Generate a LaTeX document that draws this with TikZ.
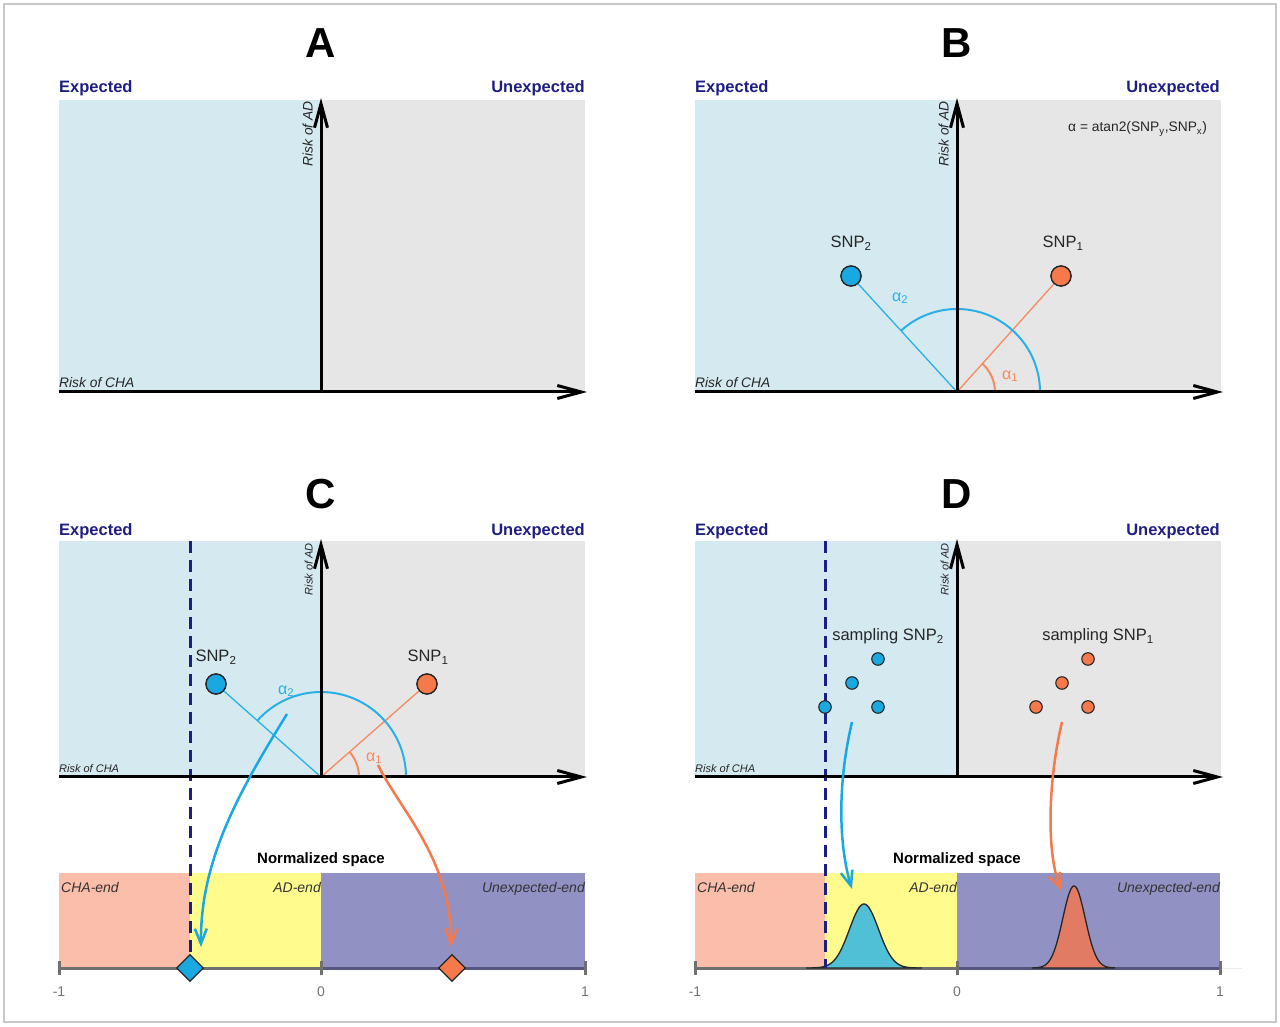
\documentclass[tikz,border=0pt]{standalone}
\usepackage{fontspec}
\setmainfont{Liberation Sans}
\usetikzlibrary{arrows.meta,shapes.geometric}
\definecolor{bgexp}{HTML}{D5E9F0}
\definecolor{bgunexp}{HTML}{E6E6E6}
\definecolor{navy}{HTML}{1E1E82}
\definecolor{snpblue}{HTML}{1AA8E0}
\definecolor{lineblue}{HTML}{2AB0E4}
\definecolor{snporange}{HTML}{F5794A}
\definecolor{lineorange}{HTML}{F58A60}
\definecolor{salmon}{HTML}{FBBEAA}
\definecolor{ylw}{HTML}{FFFB8C}
\definecolor{purp}{HTML}{9191C4}
\definecolor{densblue}{HTML}{4FC0D5}
\definecolor{densorange}{HTML}{E17B63}
\definecolor{framec}{HTML}{C8C8C8}
\definecolor{tickgray}{HTML}{707070}
\definecolor{tickdark}{HTML}{55557F}
\begin{document}
\begin{tikzpicture}[x=1pt,y=1pt,
  panel/.style={font=\fontsize{42}{46}\selectfont\bfseries, anchor=base, inner sep=0},
  explab/.style={font=\fontsize{16.5}{19}\selectfont\bfseries, text=navy, inner sep=0},
  riskbig/.style={font=\fontsize{13.8}{16}\selectfont\itshape, text=black!85, inner sep=0},
  risksmall/.style={font=\fontsize{11}{13}\selectfont\itshape, text=black!85, inner sep=0},
  axisarrow/.style={line width=3pt, -{Straight Barb[length=24pt,width=13pt]}},
  snpdot/.style={circle, draw=black!85, line width=1.3pt, minimum size=20pt, inner sep=0},
  sampdot/.style={circle, draw=black!85, line width=1.1pt, minimum size=12.5pt, inner sep=0},
  snplab/.style={font=\fontsize{16.5}{19}\selectfont, text=black!85, anchor=base, inner sep=0},
  alphalab/.style={font=\fontsize{16}{19}\selectfont, inner sep=0},
  blueline/.style={draw=lineblue, line width=1.3pt},
  orangeline/.style={draw=lineorange, line width=1.3pt},
  bluearc/.style={draw=lineblue, line width=2pt},
  orangearc/.style={draw=lineorange, line width=2pt},
  dashline/.style={draw=navy, line width=3pt, dash pattern=on 12pt off 7pt},
  normlab/.style={font=\fontsize{15}{18}\selectfont\bfseries, anchor=base, inner sep=0},
  endlab/.style={font=\fontsize{14}{17}\selectfont\itshape, text=black!80, inner sep=0},
  ticklab/.style={font=\fontsize{14}{16}\selectfont, text=black!55, anchor=base, inner sep=0},
  tickline/.style={draw=tickgray, line width=3pt},
  curvblue/.style={draw=snpblue, line width=2.5pt, -{Straight Barb[length=15pt,width=12pt]}},
  curvorange/.style={draw=snporange, line width=2.5pt, -{Straight Barb[length=15pt,width=12pt]}},
  dmd/.style={diamond, draw=black!85, line width=1.3pt, minimum size=27pt, inner sep=0}
]
\useasboundingbox (0,0) rectangle (1280,1026);
\draw[framec, line width=2pt] (4,4) rectangle (1276,1022);

% ================= Panel A =================
\fill[bgexp] (59,634) rectangle (321,926);
\fill[bgunexp] (321,634) rectangle (585,926);
\coordinate (OA) at (321,634);
\coordinate (XA0) at (59,634);
\coordinate (XA1) at (587,634);
\coordinate (YA1) at (321,928);
\draw[axisarrow] (XA0) -- (XA1);
\draw[axisarrow] (OA) -- (YA1);
\node[panel] (tA) at (321,968) {A};
\node[explab, anchor=base west] (eA) at (59,933) {Expected};
\node[explab, anchor=base east] (uA) at (585,933) {Unexpected};
\node[riskbig, rotate=90, anchor=south east] (rA) at (313,925) {Risk of AD};
\node[riskbig, anchor=base west] (cA) at (59,638) {Risk of CHA};

% ================= Panel B =================
\fill[bgexp] (695,634) rectangle (957,926);
\fill[bgunexp] (957,634) rectangle (1221,926);
\coordinate (OB) at (957,634);
\coordinate (XB0) at (695,634);
\coordinate (XB1) at (1223,634);
\coordinate (YB1) at (957,928);
\node[snpdot, fill=snporange] (B1) at (1061,750) {};
\node[snpdot, fill=snpblue] (B2) at (851,750) {};
\draw[orangeline] (OB) -- (B1);
\draw[blueline] (OB) -- (B2);
\draw[bluearc] (OB) ++(83pt,0) arc[start angle=0, end angle=132.4, radius=83pt];
\draw[orangearc] (OB) ++(38pt,0) arc[start angle=0, end angle=48.1, radius=38pt];
\draw[axisarrow] (XB0) -- (XB1);
\draw[axisarrow] (OB) -- (YB1);
\node[snpdot, fill=snporange] at (B1) {};
\node[snpdot, fill=snpblue] at (B2) {};
\node[panel] (tB) at (957,968) {B};
\node[explab, anchor=base west] (eB) at (695,933) {Expected};
\node[explab, anchor=base east] (uB) at (1220,933) {Unexpected};
\node[riskbig, rotate=90, anchor=south east] (rB) at (949,925) {Risk of AD};
\node[riskbig, anchor=base west] (cB) at (695,638) {Risk of CHA};
\node[snplab] (lB2) at (851,778) {SNP\textsubscript{2}};
\node[snplab] (lB1) at (1063,778) {SNP\textsubscript{1}};
\node[alphalab, text=lineblue] (aB2) at (900,728) {α\textsubscript{2}};
\node[alphalab, text=lineorange] (aB1) at (1010,650) {α\textsubscript{1}};
\node[font=\fontsize{13.8}{15}\selectfont, text=black!85, anchor=base west, inner sep=0] (fB) at (1068,894) {α = atan2(SNP\textsubscript{y},SNP\textsubscript{x})};

% ================= Panel C =================
\fill[bgexp] (59,249) rectangle (321,485);
\fill[bgunexp] (321,249) rectangle (585,485);
\fill[salmon] (59,58) rectangle (190,153);
\fill[ylw] (190,58) rectangle (321,153);
\fill[purp] (321,58) rectangle (585,153);
\coordinate (OC) at (321,249);
\coordinate (XC0) at (59,249);
\coordinate (XC1) at (587,249);
\coordinate (YC1) at (321,487);
\coordinate (TC0) at (59,58);
\coordinate (TCm) at (321,58);
\coordinate (TC1) at (585,58);
\draw[tickline] (TC0) -- (TCm);
\draw[tickline, draw=tickdark] (TCm) -- (TC1);
\foreach \xx in {59,321,585} \draw[tickline] (\xx,51) -- (\xx,65);
\coordinate (DC0) at (190,485);
\coordinate (DC1) at (190,58);
\draw[dashline] (DC0) -- (DC1);
\node[snpdot, fill=snporange] (C1) at (427,342) {};
\node[snpdot, fill=snpblue] (C2) at (216,342) {};
\draw[orangeline] (OC) -- (C1);
\draw[blueline] (OC) -- (C2);
\draw[bluearc] (OC) ++(85pt,0) arc[start angle=0, end angle=138.5, radius=85pt];
\draw[orangearc] (OC) ++(38pt,0) arc[start angle=0, end angle=41.3, radius=38pt];
\draw[axisarrow] (XC0) -- (XC1);
\draw[axisarrow] (OC) -- (YC1);
\node[snpdot, fill=snporange] at (C1) {};
\node[snpdot, fill=snpblue] at (C2) {};
\node[panel] (tC) at (321,517) {C};
\node[explab, anchor=base west] (eC) at (59,490) {Expected};
\node[explab, anchor=base east] (uC) at (585,490) {Unexpected};
\node[risksmall, rotate=90, anchor=south east] (rC) at (313,483) {Risk of AD};
\node[risksmall, anchor=base west] (cC) at (59,253) {Risk of CHA};
\node[snplab] (lC2) at (216,364) {SNP\textsubscript{2}};
\node[snplab] (lC1) at (428,364) {SNP\textsubscript{1}};
\node[alphalab, text=lineblue] (aC2) at (286,335) {α\textsubscript{2}};
\node[alphalab, text=lineorange] (aC1) at (374,268) {α\textsubscript{1}};
\node[normlab] (nC) at (321,162) {Normalized space};
\node[endlab, anchor=base west] (ec1) at (61,133) {CHA-end};
\node[endlab, anchor=base east] (ec2) at (321,133) {AD-end};
\node[endlab, anchor=base east] (ec3) at (585,133) {Unexpected-end};
\node[ticklab] (kc1) at (59,30) {-1};
\node[ticklab] (kc2) at (321,30) {0};
\node[ticklab] (kc3) at (585,30) {1};
\node[dmd, fill=snpblue] (dC2) at (190,58) {};
\node[dmd, fill=snporange] (dC1) at (452,58) {};
\coordinate (sC2) at (287,312);
\coordinate (eC2) at (201,79);
\coordinate (sC1) at (378,261);
\coordinate (eC1) at (451,79);
\draw[curvblue] (sC2) .. controls (240,236) and (200,166) .. (eC2);
\draw[curvorange] (sC1) .. controls (400,216) and (452,166) .. (eC1);

% ================= Panel D =================
\fill[bgexp] (695,249) rectangle (957,485);
\fill[bgunexp] (957,249) rectangle (1221,485);
\fill[salmon] (695,58) rectangle (825,153);
\fill[ylw] (825,58) rectangle (957,153);
\fill[purp] (957,58) rectangle (1220,153);
\coordinate (OD) at (957,249);
\coordinate (XD0) at (695,249);
\coordinate (XD1) at (1223,249);
\coordinate (YD1) at (957,487);
\coordinate (TD0) at (695,58);
\coordinate (TDm) at (957,58);
\coordinate (TD1) at (1220,58);
\coordinate (TD2) at (1242,58);
\draw[draw=black!8, line width=1pt] (TD1) -- (TD2);
\draw[tickline] (TD0) -- (TDm);
\draw[tickline, draw=tickdark] (TDm) -- (TD1);
\foreach \xx in {695,957,1220} \draw[tickline] (\xx,51) -- (\xx,65);
% densities
\draw[fill=densblue, draw=black!85, line width=1.3pt] plot[domain=806:922, samples=90, smooth] (\x, {58+64*exp(-((\x-864)^2)/420)}) -- cycle;
\draw[fill=densorange, draw=black!85, line width=1.3pt] plot[domain=1032:1115, samples=90, smooth] (\x, {58+82*exp(-((\x-1074)^2)/250)}) -- cycle;
\coordinate (DD0) at (825,485);
\coordinate (DD1) at (825,58);
\draw[dashline] (DD0) -- (DD1);
\draw[axisarrow] (XD0) -- (XD1);
\draw[axisarrow] (OD) -- (YD1);
\node[sampdot, fill=snpblue] (d21) at (878,367) {};
\node[sampdot, fill=snpblue] (d22) at (852,343) {};
\node[sampdot, fill=snpblue] (d23) at (825,319) {};
\node[sampdot, fill=snpblue] (d24) at (878,319) {};
\node[sampdot, fill=snporange] (d11) at (1088,367) {};
\node[sampdot, fill=snporange] (d12) at (1062,343) {};
\node[sampdot, fill=snporange] (d13) at (1036,319) {};
\node[sampdot, fill=snporange] (d14) at (1088,319) {};
\node[panel] (tD) at (957,517) {D};
\node[explab, anchor=base west] (eD) at (695,490) {Expected};
\node[explab, anchor=base east] (uD) at (1220,490) {Unexpected};
\node[risksmall, rotate=90, anchor=south east] (rD) at (949,483) {Risk of AD};
\node[risksmall, anchor=base west] (cD) at (695,253) {Risk of CHA};
\node[snplab] (lD2) at (888,385) {sampling SNP\textsubscript{2}};
\node[snplab] (lD1) at (1098,385) {sampling SNP\textsubscript{1}};
\node[normlab] (nD) at (957,162) {Normalized space};
\node[endlab, anchor=base west] (ed1) at (697,133) {CHA-end};
\node[endlab, anchor=base east] (ed2) at (957,133) {AD-end};
\node[endlab, anchor=base east] (ed3) at (1220,133) {Unexpected-end};
\node[ticklab] (kd1) at (695,30) {-1};
\node[ticklab] (kd2) at (957,30) {0};
\node[ticklab] (kd3) at (1220,30) {1};
\coordinate (sD2) at (852,304);
\coordinate (eD2) at (852,137);
\coordinate (sD1) at (1062,304);
\coordinate (eD1) at (1062,135);
\draw[curvblue] (sD2) .. controls (836,236) and (840,176) .. (eD2);
\draw[curvorange] (sD1) .. controls (1046,236) and (1048,166) .. (eD1);
\end{tikzpicture}
\end{document}
